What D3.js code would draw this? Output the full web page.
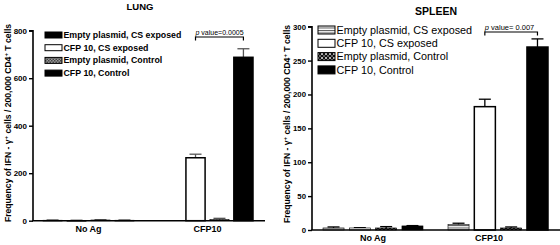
<!DOCTYPE html>
<html><head><meta charset="utf-8">
<script src="https://cdn.jsdelivr.net/npm/d3@7"></script>
<style>
body{margin:0;background:#fff;}
svg{display:block;font-family:"Liberation Sans",Arial,sans-serif;}
</style></head>
<body><svg id="c" width="560" height="245"></svg>
<script>
const groups = ["No Ag", "CFP10"];
const series = ["Empty plasmid, CS exposed", "CFP 10, CS exposed", "Empty plasmid, Control", "CFP 10, Control"];
const lungMeans = [[2, 1, 3, 2], [0, 265, 5, 688]];
const lungErrs = [[1, 1, 1, 1], [0, 15, 5, 36]];
const lungTicks = [0, 200, 400, 600, 800];
const spleenMeans = [[3, 3, 3, 6], [8, 182, 3, 270]];
const spleenErrs = [[1.5, 0.5, 2, 0.5], [2, 11, 1.5, 12]];
const spleenTicks = [0, 50, 100, 150, 200, 250, 300];
const lungP = "value=0.0005";
const spleenP = "value= 0.007";

const svg = d3.select("#c");
const defs = svg.append("defs");
// patterns
let p = defs.append("pattern").attr("id","lungChk").attr("patternUnits","userSpaceOnUse").attr("width",3).attr("height",3);
p.append("rect").attr("width",3).attr("height",3).attr("fill","#9a9a9a");
p.append("rect").attr("width",1.5).attr("height",1.5).attr("fill","#444");
p.append("rect").attr("x",1.5).attr("y",1.5).attr("width",1.5).attr("height",1.5).attr("fill","#444");
p = defs.append("pattern").attr("id","hstripe").attr("patternUnits","userSpaceOnUse").attr("width",4).attr("height",2.5);
p.append("rect").attr("width",4).attr("height",2.5).attr("fill","#fff");
p.append("rect").attr("width",4).attr("height",1).attr("fill","#555");
p = defs.append("pattern").attr("id","xchk").attr("patternUnits","userSpaceOnUse").attr("width",4).attr("height",4);
p.append("rect").attr("width",4).attr("height",4).attr("fill","#111");
p.append("path").attr("d","M0.5,0.5L3.5,3.5M3.5,0.5L0.5,3.5").attr("stroke","#ddd").attr("stroke-width",0.8);

function panel(cfg){
  const g = svg.append("g");
  const y = d3.scaleLinear().domain(cfg.domain).range([cfg.y0, cfg.y1]);
  const gx = d3.scaleBand().domain(groups).range([cfg.barL, cfg.barR]).paddingInner(cfg.gpad).paddingOuter(0);
  const sx = d3.scaleBand().domain(series).range([0, gx.bandwidth()]).paddingInner(0.2).paddingOuter(0);
  const fills = cfg.fills;
  // bars
  groups.forEach((grp, gi) => {
    series.forEach((s, si) => {
      const v = cfg.means[gi][si], e = cfg.errs[gi][si];
      const x = gx(grp) + sx(s), w = sx.bandwidth();
      if (v <= 0) return;
      if (e > 0) {
        const cx = x + w/2;
        g.append("line").attr("x1",cx).attr("x2",cx).attr("y1",y(v)).attr("y2",y(v+e)).attr("stroke",cfg.errColor).attr("stroke-width",1.3);
        g.append("line").attr("x1",cx-6).attr("x2",cx+6).attr("y1",y(v+e)).attr("y2",y(v+e)).attr("stroke",cfg.errColor).attr("stroke-width",1.3);
      }
      g.append("rect").attr("x",x).attr("y",y(v)).attr("width",w).attr("height",Math.max(0.8,y(0)-y(v)))
        .attr("fill",fills[si]).attr("stroke","#000").attr("stroke-width",v>20?1.5:0.6);
    });
  });
  // y axis
  const ya = d3.axisLeft(y).tickValues(cfg.ticks).tickSize(4).tickPadding(2);
  const ay = g.append("g").attr("transform",`translate(${cfg.axX},0)`).call(ya);
  ay.select(".domain").attr("stroke-width",1.6).attr("d",`M-4,${cfg.y1}H0V${cfg.y0}`);
  ay.selectAll(".tick line").attr("stroke-width",1.4);
  ay.selectAll(".tick text").attr("font-size",cfg.tickFs).attr("font-weight","bold").attr("fill","#000");
  // x axis
  g.append("line").attr("x1",cfg.axX-0.8).attr("x2",cfg.axR).attr("y1",cfg.y0).attr("y2",cfg.y0).attr("stroke","#000").attr("stroke-width",1.6);
  groups.forEach((grp, gi) => {
    g.append("text").attr("x",gx(grp)+gx.bandwidth()/2 + cfg.labDx[gi]).attr("y",cfg.labY).attr("text-anchor","middle")
      .attr("font-size",9).attr("font-weight","bold").text(grp);
  });
  // title
  g.append("text").attr("x",cfg.titleX).attr("y",cfg.titleY).attr("text-anchor","middle").attr("font-size",cfg.titleFs).attr("font-weight","bold").text(cfg.title);
  // y label
  const yl = g.append("text").attr("transform",`translate(${cfg.ylX},${cfg.ylY}) rotate(-90)`).attr("text-anchor","middle")
    .attr("font-size",cfg.ylFs).attr("font-weight","bold");
  yl.append("tspan").text("Frequency of IFN - γ");
  yl.append("tspan").attr("baseline-shift","super").attr("font-size",cfg.ylFs*0.7).text("+");
  yl.append("tspan").text(" cells / 200,000 CD4");
  yl.append("tspan").attr("baseline-shift","super").attr("font-size",cfg.ylFs*0.7).text("+");
  yl.append("tspan").text(" T cells");
  // legend
  series.forEach((s, si) => {
    const ly = cfg.legY + si*cfg.legStep;
    g.append("rect").attr("x",cfg.legX).attr("y",ly-cfg.swH/2).attr("width",cfg.swW).attr("height",cfg.swH)
      .attr("fill",fills[si]).attr("stroke","#000").attr("stroke-width",1);
    g.append("text").attr("x",cfg.legX+cfg.swW+1.5).attr("y",ly).attr("dy","0.35em").attr("font-size",cfg.legFs)
      .attr("font-weight",cfg.legBold?"bold":"normal").text(s);
  });
  // p value bracket
  const c1 = gx(groups[1]) + sx(series[1]) + sx.bandwidth()/2;
  const c2 = gx(groups[1]) + sx(series[3]) + sx.bandwidth()/2;
  g.append("path").attr("d",`M${c1},${cfg.brY+3.5}V${cfg.brY}H${c2}V${cfg.brY+3.5}`).attr("fill","none").attr("stroke","#000").attr("stroke-width",1.2);
  const pt = g.append("text").attr("x",c1).attr("y",cfg.brY-2.5).attr("font-size",cfg.pFs);
  pt.append("tspan").attr("font-style","italic").text("p");
  pt.append("tspan").text(" " + cfg.pText);
}

panel({domain:[0,800], y0:220.7, y1:30.7, barL:43, barR:253, gpad:0.235, axX:33, axR:265,
  means:lungMeans, errs:lungErrs, ticks:lungTicks, errColor:"#555",
  fills:["#000","#fff","url(#lungChk)","#000"], tickFs:8, labY:232, labDx:[0,0],
  title:"LUNG", titleX:140, titleY:10, titleFs:9.5, ylX:11, ylY:123, ylFs:8.6,
  legX:45, legY:35, legStep:12.7, swW:17, swH:6, legFs:8.8, legBold:true,
  brY:37, pFs:7, pText:lungP});
panel({domain:[0,300], y0:230, y1:26.7, barL:323, barR:548, gpad:0.2, axX:312, axR:560,
  means:spleenMeans, errs:spleenErrs, ticks:spleenTicks, errColor:"#000",
  fills:["url(#hstripe)","#fff","url(#xchk)","#000"], tickFs:7.8, labY:241, labDx:[0,-9],
  title:"SPLEEN", titleX:436, titleY:15, titleFs:10.5, ylX:290, ylY:124, ylFs:8.6,
  legX:318, legY:30, legStep:13.3, swW:17, swH:8, legFs:10.8, legBold:false,
  brY:32, pFs:7.5, pText:spleenP});
</script></body></html>
